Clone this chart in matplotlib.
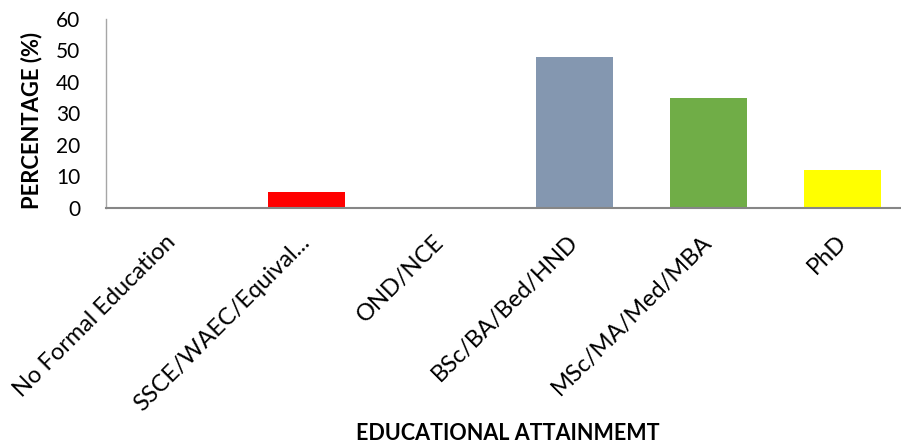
import matplotlib.pyplot as plt
import numpy as np

# Highest education level reached by respondents (%)
categories = [
    "No Formal Education",
    "SSCE/WAEC/Equival...",
    "OND/NCE",
    "BSc/BA/Bed/HND",
    "MSc/MA/Med/MBA",
    "PhD",
]
percentages = [0, 5, 0, 48, 35, 12]
bar_colors = ["#4472C4", "#FF0000", "#A5A5A5", "#8497B0", "#70AD47", "#FFFF00"]
y_ticks = [0, 10, 20, 30, 40, 50, 60]

plt.rcParams["font.family"] = ["Lato", "DejaVu Sans"]

fig = plt.figure(figsize=(9.01, 4.47), dpi=100)
ax = fig.add_axes([0.1171, 0.5347, 0.8926, 0.4228])

x = np.arange(len(categories))
ax.bar(x, percentages, width=0.575, color=bar_colors, zorder=2)

ax.set_xlim(-0.5, len(categories) - 0.5)
ax.set_ylim(0, 60)
ax.set_yticks(y_ticks)
ax.set_yticklabels([str(v) for v in y_ticks], fontsize=15)
ax.set_xticks(x)
ax.set_xticklabels(categories, fontsize=17, rotation=45, ha="right",
                   va="center", rotation_mode="anchor")

ax.tick_params(axis="y", length=0, pad=18)
ax.tick_params(axis="x", length=0, pad=22)

for side in ("top", "right"):
    ax.spines[side].set_visible(False)
ax.spines["left"].set_color("#a6a6a6")
ax.spines["left"].set_linewidth(1.0)
ax.spines["bottom"].set_color("#868686")
ax.spines["bottom"].set_linewidth(1.5)

fig.text(0.0355, 0.7304, "PERCENTAGE (%)", rotation=90, ha="center",
         va="center", fontsize=15.8, fontweight="bold")
fig.text(0.5633, 0.03, "EDUCATIONAL ATTAINMEMT", ha="center",
         va="center", fontsize=15.5, fontweight="bold")

fig.savefig("out.png", dpi=100)
plt.close(fig)
